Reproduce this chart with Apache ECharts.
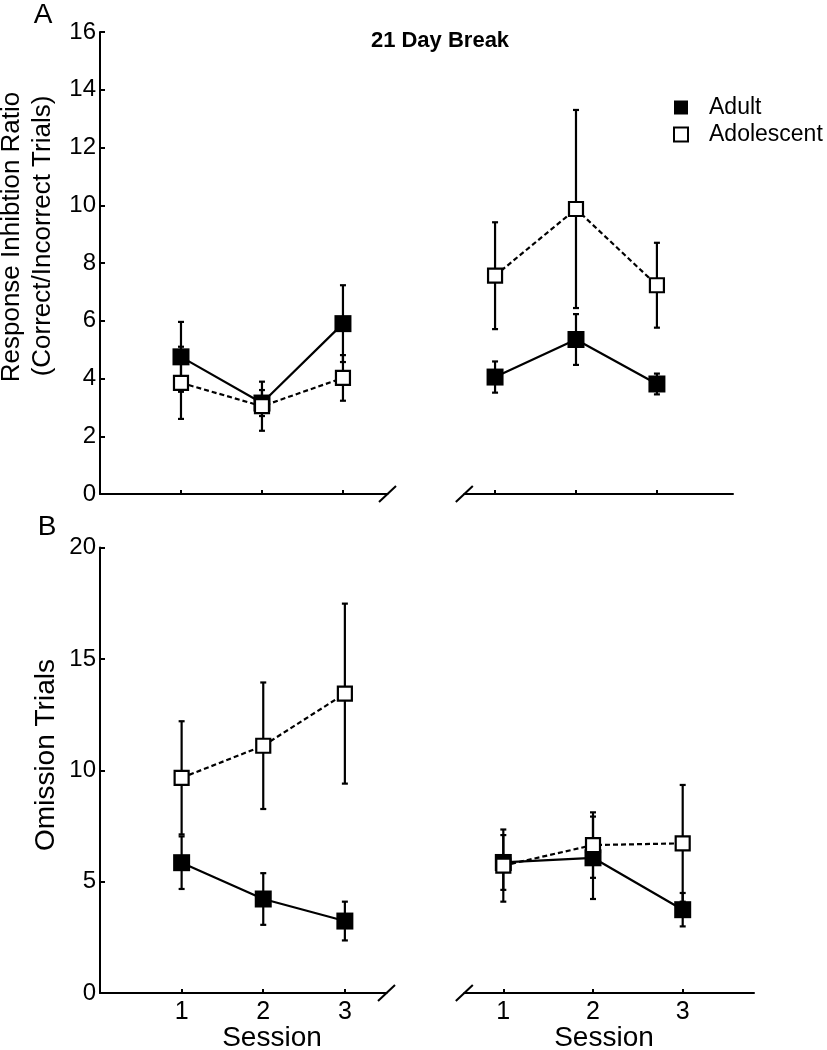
<!DOCTYPE html>
<html>
<head>
<meta charset="utf-8">
<script src="https://cdn.jsdelivr.net/npm/echarts@6/dist/echarts.min.js"></script>
<style>
html,body{margin:0;padding:0;background:#fff;}
#c{width:827px;height:1050px;}
</style>
</head>
<body>
<div id="c"></div>
<script>
// ---- data ----
const sessions = [1, 2, 3];
const ratioTicks = [0, 2, 4, 6, 8, 10, 12, 14, 16];
const omitTicks = [0, 5, 10, 15, 20];

// Panel A: response inhibition ratio (left: before break, right: after 21 day break)
const ratioAdultPre = [4.75, 3.15, 5.90];
const ratioAdultPreErr = [1.21, 0.45, 1.33];
const ratioAdolPre = [3.85, 3.04, 4.02];
const ratioAdolPreErr = [1.25, 0.85, 0.79];
const ratioAdultPost = [4.05, 5.35, 3.81];
const ratioAdultPostErr = [0.54, 0.88, 0.36];
const ratioAdolPost = [7.56, 9.87, 7.23];
const ratioAdolPostErr = [1.85, 3.43, 1.47];

// Panel B: omission trials
const omitAdultPre = [5.85, 4.22, 3.23];
const omitAdultPreErr = [1.18, 1.16, 0.87];
const omitAdolPre = [9.66, 11.10, 13.44];
const omitAdolPreErr = [2.54, 2.84, 4.04];
const omitAdultPost = [5.86, 6.07, 3.74];
const omitAdultPostErr = [1.23, 1.85, 0.75];
const omitAdolPost = [5.72, 6.64, 6.72];
const omitAdolPostErr = [1.62, 1.47, 2.62];

// ---- chart ----
const FONT = '"Liberation Sans", Arial, Helvetica, sans-serif';
const chart = echarts.init(document.getElementById('c'), null, {renderer: 'canvas'});

const grids = [
  {left: 100, top: 32, width: 287.5, height: 462},
  {left: 464.3, top: 32, width: 268.7, height: 462},
  {left: 100, top: 547.5, width: 286.5, height: 445.5},
  {left: 464.3, top: 547.5, width: 289.7, height: 445.5}
];
const xRanges = [[0, 3.55], [0.62, 3.94], [0, 3.51], [0.565, 3.795]];

const xAxes = xRanges.map((r, i) => ({
  gridIndex: i, type: 'value', min: r[0], max: r[1],
  axisLine: {lineStyle: {color: '#000', width: 2}},
  axisTick: {inside: true, length: 4, customValues: sessions, lineStyle: {color: '#000', width: 2}},
  axisLabel: {show: i >= 2, customValues: sessions, color: '#000', fontSize: 25, fontFamily: FONT, margin: 7},
  splitLine: {show: false}
}));

function yAx(i, max, interval, show) {
  return {
    gridIndex: i, type: 'value', min: 0, max: max, interval: interval, show: show,
    axisLine: {show: true, lineStyle: {color: '#000', width: 2}},
    axisTick: {inside: true, length: 5, lineStyle: {color: '#000', width: 2}},
    axisLabel: {color: '#000', fontSize: 24, fontFamily: FONT, margin: 4},
    splitLine: {show: false}
  };
}
const yAxes = [yAx(0, 16, 2, true), yAx(1, 16, 2, false), yAx(2, 20, 5, true), yAx(3, 20, 5, false)];

function pts(vals, errs) { return sessions.map((s, i) => [s, vals[i], errs[i]]); }

function errSeries(name, gi, vals, errs) {
  return {
    name: name, type: 'custom', xAxisIndex: gi, yAxisIndex: gi, z: 1,
    data: pts(vals, errs), encode: {x: 0, y: 1},
    renderItem: function (params, api) {
      const x = api.value(0), y = api.value(1), e = api.value(2);
      const t = api.coord([x, y + e]), b = api.coord([x, y - e]);
      const st = {stroke: '#000', lineWidth: 2.2};
      const hw = 3;
      return {type: 'group', children: [
        {type: 'line', shape: {x1: t[0], y1: t[1], x2: b[0], y2: b[1]}, style: st},
        {type: 'line', shape: {x1: t[0] - hw, y1: t[1], x2: t[0] + hw, y2: t[1]}, style: st},
        {type: 'line', shape: {x1: b[0] - hw, y1: b[1], x2: b[0] + hw, y2: b[1]}, style: st}
      ]};
    }
  };
}
function adultSeries(gi, vals, errs) {
  return {
    name: 'Adult', type: 'line', xAxisIndex: gi, yAxisIndex: gi, z: 3,
    data: pts(vals, errs).map(p => [p[0], p[1]]),
    symbol: 'rect', symbolSize: 17,
    itemStyle: {color: '#000', borderColor: '#000', borderWidth: 0},
    lineStyle: {color: '#000', width: 2.2, type: 'solid'},
    emphasis: {disabled: true}, animation: false
  };
}
function adolSeries(gi, vals, errs) {
  return {
    name: 'Adolescent', type: 'line', xAxisIndex: gi, yAxisIndex: gi, z: 4,
    data: pts(vals, errs).map(p => [p[0], p[1]]),
    symbol: 'rect', symbolSize: 14,
    itemStyle: {color: '#fff', borderColor: '#000', borderWidth: 2.2},
    lineStyle: {color: '#000', width: 2.2, type: [5, 3]},
    emphasis: {disabled: true}, animation: false
  };
}

const groups = [
  [ratioAdultPre, ratioAdultPreErr, ratioAdolPre, ratioAdolPreErr],
  [ratioAdultPost, ratioAdultPostErr, ratioAdolPost, ratioAdolPostErr],
  [omitAdultPre, omitAdultPreErr, omitAdolPre, omitAdolPreErr],
  [omitAdultPost, omitAdultPostErr, omitAdolPost, omitAdolPostErr]
];
const series = [];
groups.forEach((g, gi) => {
  series.push(errSeries('Adult', gi, g[0], g[1]));
  series.push(errSeries('Adolescent', gi, g[2], g[3]));
  series.push(adultSeries(gi, g[0], g[1]));
  series.push(adolSeries(gi, g[2], g[3]));
});

const texts = [
  {type: 'text', x: 43, y: 15, style: {text: 'A', fontSize: 28, fontFamily: FONT, fill: '#000', textAlign: 'center', textVerticalAlign: 'middle'}},
  {type: 'text', x: 47, y: 527, style: {text: 'B', fontSize: 28, fontFamily: FONT, fill: '#000', textAlign: 'center', textVerticalAlign: 'middle'}},
  {type: 'text', x: 440, y: 41, style: {text: '21 Day Break', fontSize: 22, fontWeight: 'bold', fontFamily: FONT, fill: '#000', textAlign: 'center', textVerticalAlign: 'middle'}},
  {type: 'text', x: 12, y: 237, rotation: Math.PI / 2, style: {text: 'Response Inhibtion Ratio', fontSize: 26, fontFamily: FONT, fill: '#000', textAlign: 'center', textVerticalAlign: 'middle'}},
  {type: 'text', x: 43, y: 236, rotation: Math.PI / 2, style: {text: '(Correct/Incorrect Trials)', fontSize: 26, fontFamily: FONT, fill: '#000', textAlign: 'center', textVerticalAlign: 'middle'}},
  {type: 'text', x: 46, y: 755, rotation: Math.PI / 2, style: {text: 'Omission Trials', fontSize: 28, fontFamily: FONT, fill: '#000', textAlign: 'center', textVerticalAlign: 'middle'}},
  {type: 'text', x: 272, y: 1038, style: {text: 'Session', fontSize: 28, fontFamily: FONT, fill: '#000', textAlign: 'center', textVerticalAlign: 'middle'}},
  {type: 'text', x: 604, y: 1038, style: {text: 'Session', fontSize: 28, fontFamily: FONT, fill: '#000', textAlign: 'center', textVerticalAlign: 'middle'}}
];

chart.setOption({
  backgroundColor: '#fff',
  animation: false,
  grid: grids,
  xAxis: xAxes,
  yAxis: yAxes,
  legend: {
    orient: 'vertical', left: 673, top: 96, itemWidth: 14, itemHeight: 14, itemGap: 4, padding: 0,
    selectedMode: true,
    textStyle: {fontSize: 23, fontFamily: FONT, color: '#000', lineHeight: 21, padding: [0, 0, 0, 16]},
    data: [
      {name: 'Adult', icon: 'rect', itemStyle: {color: '#000', borderWidth: 0}},
      {name: 'Adolescent', icon: 'rect', itemStyle: {color: '#fff', borderColor: '#000', borderWidth: 2}}
    ]
  },
  series: series,
  graphic: texts
});

// axis-break slashes at the inner ends of each split x axis
const breaks = [];
[[0, 1], [2, 1], [1, 0], [3, 0]].forEach(([gi, which]) => {
  const p = chart.convertToPixel({gridIndex: gi}, [xRanges[gi][which], 0]);
  breaks.push({type: 'line', shape: {x1: p[0] - 8.5, y1: p[1] + 8, x2: p[0] + 8.5, y2: p[1] - 8}, style: {stroke: '#000', lineWidth: 2}, z: 10});
});
chart.setOption({graphic: texts.concat(breaks)});
</script>
</body>
</html>
